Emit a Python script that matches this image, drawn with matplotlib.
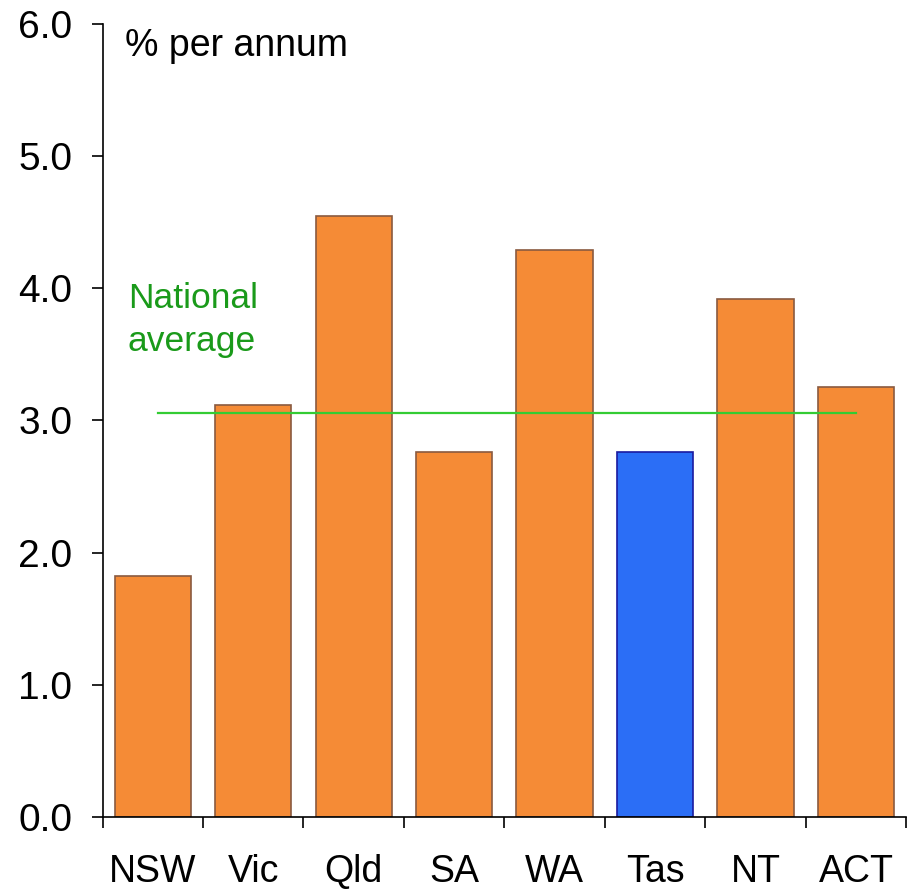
import matplotlib.pyplot as plt
import numpy as np

states = ["NSW", "Vic", "Qld", "SA", "WA", "Tas", "NT", "ACT"]
growth = [1.82, 3.12, 4.55, 2.76, 4.29, 2.76, 3.92, 3.25]
national_avg = 3.06
highlight = "Tas"

plt.rcParams['font.family'] = ['Liberation Sans', 'DejaVu Sans']

fig = plt.figure(figsize=(9.08, 8.89), dpi=100)
ax = fig.add_axes([0.113, 0.081, 0.885, 0.892])

x = np.arange(len(states))
colors = ["#2b6ef6" if s == highlight else "#f58b36" for s in states]
edges = ["#1a1aa0" if s == highlight else "#8a5a40" for s in states]
ax.bar(x, growth, width=0.76, color=colors, edgecolor=edges, linewidth=1.2, zorder=2)
ax.plot([0.05, 7.0], [national_avg, national_avg], color="#33cc33", lw=1.6, zorder=3)
ax.text(-0.25, 3.76, "National\naverage", color="#1a9a1a", fontsize=25.5, va="center", ha="left",
        linespacing=1.4)
ax.text(-0.28, 5.83, "% per annum", fontsize=27, va="center", ha="left")

ax.set_xlim(-0.5, 7.5)
ax.set_ylim(0, 6)
ax.set_yticks(np.arange(0, 6.1, 1.0))
ax.set_yticklabels([f"{v:.1f}" for v in np.arange(0, 6.1, 1.0)], fontsize=28)
ax.set_xticks(np.arange(-0.5, 7.6, 1.0))
ax.set_xticklabels([])
ax.set_xticks(x, minor=True)
ax.set_xticklabels(states, minor=True, fontsize=27)
ax.tick_params(axis="x", which="major", direction="out", length=8, width=1.2)
ax.tick_params(axis="x", which="minor", length=0, pad=27)
ax.tick_params(axis="y", direction="out", length=8, width=1.2, pad=14)
for side in ["top", "right"]:
    ax.spines[side].set_visible(False)
ax.spines["left"].set_linewidth(1.2)
ax.spines["bottom"].set_linewidth(1.2)

fig.savefig("out.png", dpi=100)
